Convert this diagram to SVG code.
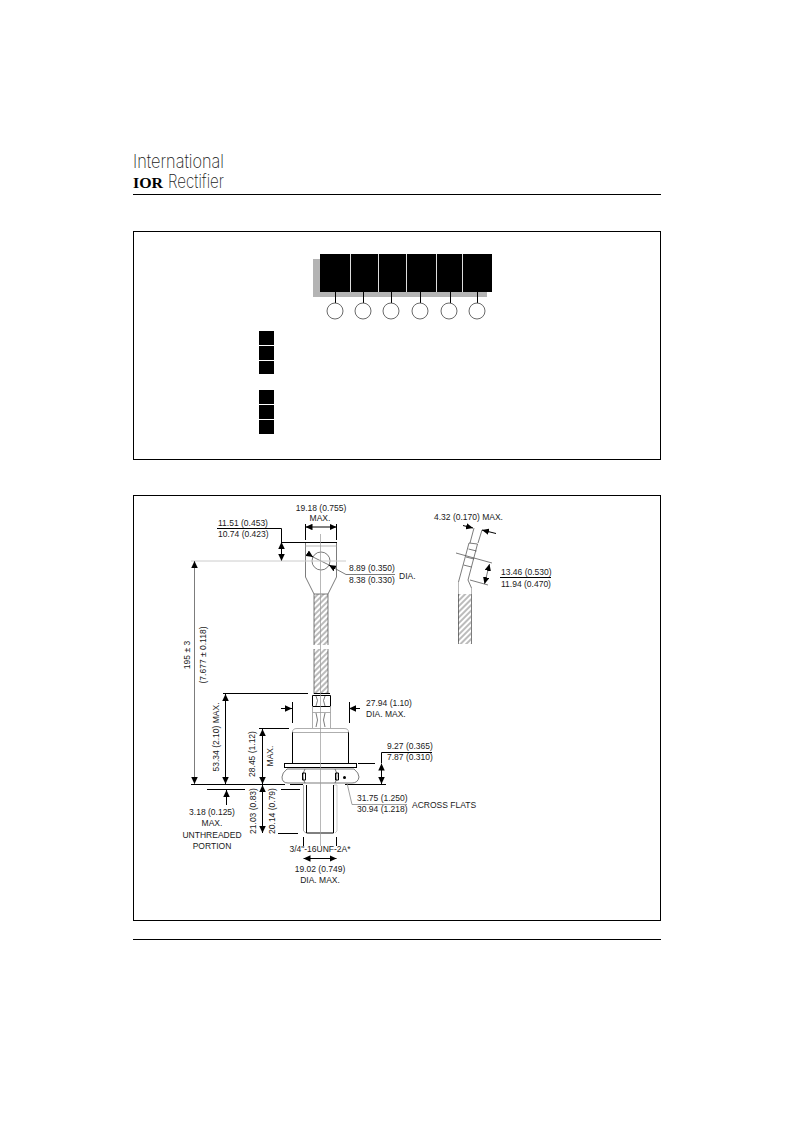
<svg xmlns="http://www.w3.org/2000/svg" width="793" height="1123" viewBox="0 0 793 1123">
<defs>
<style>
text{font-family:"Liberation Sans",Arial,sans-serif;font-size:8.5px;fill:#1a1a1a}
.logo{font-family:Inter,"Liberation Sans",sans-serif;font-weight:200;fill:#222}
.k{fill:none;stroke:#000;stroke-width:1}
.t{fill:none;stroke:#444;stroke-width:.7}
.g{fill:none;stroke:#999;stroke-width:.7}
.w{fill:none;stroke:#ccc;stroke-width:1}
.m{text-anchor:middle}
</style>
<pattern id="hatch" width="4" height="4" patternUnits="userSpaceOnUse" patternTransform="rotate(-45)"><rect width="4" height="4" fill="#fff"/><line x1="0" y1="1" x2="4" y2="1" stroke="#555" stroke-width=".8"/></pattern>
<marker id="a" viewBox="0 0 10 10" refX="10" refY="5" markerWidth="7" markerHeight="6.500" orient="auto-start-reverse" markerUnits="userSpaceOnUse" preserveAspectRatio="none"><path d="M0 0L10 5L0 10z" fill="#000"/></marker>
</defs>
<rect width="793" height="1123" fill="#fff"/>
<g id="header">
<text class="logo" x="133" y="168" style="font-size:18.500px" textLength="91" lengthAdjust="spacingAndGlyphs">International</text>
<text x="133" y="188" style="font-size:15px;font-weight:700;font-family:'Liberation Serif',serif;fill:#000" textLength="30" lengthAdjust="spacingAndGlyphs">IOR</text>
<text class="logo" x="168" y="188" style="font-size:18.500px" textLength="56" lengthAdjust="spacingAndGlyphs">Rectifier</text>
<line x1="133" y1="194.500" x2="661" y2="194.500" stroke="#000"/>
</g>
<rect id="frame-top" x="133.500" y="231.500" width="527" height="228" fill="none" stroke="#000"/>
<g id="part-number">
<rect x="313" y="259" width="174" height="38" fill="#b4b4b4"/>
<rect x="320" y="254" width="172" height="38" fill="#000"/>
<path d="M350.500 254V292M378.500 254V292M406.500 254V292M436.500 254V292M462.500 254V292" stroke="#ddd" stroke-width="1"/>
<path d="M335.500 292V303M363.500 292V303M391.500 292V303M420.500 292V303M450.500 292V303M477.500 292V303" class="k"/>
<g fill="#fff" stroke="#444" stroke-width=".8"><circle cx="335" cy="311" r="8"/><circle cx="363" cy="311" r="8"/><circle cx="391" cy="311" r="8"/><circle cx="420" cy="311" r="8"/><circle cx="449" cy="311" r="8"/><circle cx="477" cy="311" r="8"/></g>
</g>
<g id="legend" fill="#000"><rect x="259" y="331" width="15" height="14"/><rect x="259" y="346" width="15" height="14"/><rect x="259" y="361" width="15" height="13"/><rect x="259" y="390" width="15" height="14"/><rect x="259" y="405" width="15" height="14"/><rect x="259" y="420" width="15" height="14"/></g>
<rect id="frame-bottom" x="133.500" y="495.500" width="527" height="425" fill="none" stroke="#000"/>
<line id="footer-rule" x1="133" y1="939.500" x2="661" y2="939.500" stroke="#000"/>
<g id="device">
<rect x="314" y="594" width="14" height="51" fill="url(#hatch)"/><rect x="314" y="649" width="14" height="45" fill="url(#hatch)"/>
<path class="t" d="M314 594V645M328 594V645M314 649V694M328 649V694"/>
<path class="t" d="M305.500 542V577L314 594H328L336.500 577V542"/>
<path class="k" d="M305 542.500H337"/>
<path class="g" d="M305 546H337"/>
<circle cx="321" cy="561" r="9" class="t"/>
<path d="M312.500 695.500H330.500V706.500H312.500Z" fill="#fff" stroke="#000"/>
<path d="M314 693.500H330" class="k"/>
<path class="t" d="M316 696Q319 700 316 706M325 696Q322 700 325 706M316 713Q319 720 316 727M325 713Q322 720 325 727"/>
<path d="M312.500 706V728M330.500 706V728M312.500 712.500H330.500" stroke="#999" stroke-width=".8" fill="none"/>
<path d="M292.500 763V732" class="k"/><path d="M348.500 763V732" class="k"/>
<path d="M292.500 732Q292.500 728.500 297 728.500H344Q348.500 728.500 348.500 732M292.500 732.500H348.500" stroke="#999" stroke-width=".8" fill="none"/>
<rect x="284.500" y="763.500" width="72" height="4" fill="#fff" stroke="#000"/>
<path class="t" d="M287 769H354Q359 773 359 777Q358 783 352 783H288Q282 783 282 777Q282 773 287 769ZM305 769Q301 776 305 783M335 769Q339 776 335 783"/>
<path class="k" d="M302.500 773H305.500V780H302.500ZM335.500 773H338.500V780H335.500Z" fill="#fff"/>
<circle cx="344.500" cy="777.500" r="1.500" fill="#000"/>
<path class="k" d="M306.500 785V833H333.500V785"/>
<path d="M334 785H337V831L335 833" class="w"/>
<path d="M303.500 785V831L306 833" stroke="#999" stroke-width=".8" fill="none"/>
<path class="g" d="M320.500 534V846"/>
</g>
<g id="device-side">
<rect x="458" y="594" width="13" height="50" fill="url(#hatch)"/>
<path class="t" d="M458.500 594V644M471.500 594V644"/>
<path class="g" d="M458.500 582V594M471.500 588V594"/>
<path class="t" d="M458.500 582L469 543M477.500 544L468 580L471.500 588M469 543L477.500 544M468.500 549L476.500 551M466 557L474 559M463.500 565L471.500 567"/>
<path class="t" d="M474 528L470 543M482 530L478 543M456 553L492 563M470 580L488 585"/>
</g>
<g id="connectors">
<path class="k" d="M305.500 524V540M336.500 524V540"/>
<line x1="305.500" y1="527" x2="336.500" y2="527" class="k" marker-start="url(#a)" marker-end="url(#a)"/>
<path class="k" d="M217 528.500H281.500V542.500H305"/>
<line x1="281.500" y1="542" x2="281.500" y2="561" class="k" marker-start="url(#a)" marker-end="url(#a)"/>
<line x1="307" y1="553" x2="313" y2="557" class="k" marker-end="url(#a)"/>
<line x1="335" y1="568.500" x2="329" y2="565" class="k" marker-end="url(#a)"/>
<path class="t" d="M313 557L329 565M335 568.500L346 574.500H395"/>
<path class="w" d="M191 561H346"/>
<line x1="194.500" y1="561" x2="194.500" y2="784" class="t" marker-start="url(#a)" marker-end="url(#a)"/>
<path class="k" d="M191 784.500H285M290 784.500H303"/>
<path d="M223 693.500H308" class="k"/>
<line x1="225.500" y1="694" x2="225.500" y2="784" class="k" marker-start="url(#a)" marker-end="url(#a)"/>
<path d="M259 728.500H289" class="k"/>
<line x1="262.500" y1="729" x2="262.500" y2="784" class="k" marker-start="url(#a)" marker-end="url(#a)"/>
<line x1="262.500" y1="785" x2="262.500" y2="833" class="k" marker-start="url(#a)" marker-end="url(#a)"/>
<path d="M207 789.500H245M281 789.500H300M278 833.500H298" class="k"/>
<line x1="226.500" y1="805" x2="226.500" y2="790" class="k" marker-end="url(#a)"/>
<line x1="281" y1="708.500" x2="292" y2="708.500" class="k" marker-end="url(#a)"/>
<line x1="360" y1="708.500" x2="349" y2="708.500" class="k" marker-end="url(#a)"/>
<path d="M292.500 702V723M349.500 702V723" class="k"/>
<path class="k" d="M432 752.500H381.500V763"/>
<path class="k" d="M358 763.500H375M345 784.500H386"/>
<line x1="381.500" y1="763.500" x2="381.500" y2="784" class="k" marker-start="url(#a)" marker-end="url(#a)"/>
<path d="M347 783L352 804.500H407" stroke="#888" stroke-width=".8" fill="none"/>
<path d="M303.500 837V846M336.500 837V846" class="k"/>
<line x1="303.500" y1="858.500" x2="336.500" y2="858.500" class="k" marker-start="url(#a)" marker-end="url(#a)"/>
<path class="k" d="M500 577.500H551"/>
<line x1="463" y1="525.500" x2="473" y2="528" class="k" marker-end="url(#a)"/>
<line x1="496" y1="533.500" x2="482" y2="530" class="k" marker-end="url(#a)"/>
<line x1="489.500" y1="564" x2="484.500" y2="584" class="t" marker-start="url(#a)" marker-end="url(#a)"/>
</g>
<g id="labels">
<text x="321" y="511" class="m">19.18 (0.755)</text><text x="320" y="521" class="m">MAX.</text>
<text x="218" y="526">11.51 (0.453)</text><text x="218" y="537">10.74 (0.423)</text>
<text x="349" y="571">8.89 (0.350)</text><text x="349" y="583">8.38 (0.330)</text><text x="399" y="579">DIA.</text>
<text x="434" y="520">4.32 (0.170) MAX.</text>
<text x="501" y="575">13.46 (0.530)</text><text x="501" y="587">11.94 (0.470)</text>
<text x="366" y="706">27.94 (1.10)</text><text x="366" y="717">DIA. MAX.</text>
<text x="387" y="749">9.27 (0.365)</text><text x="387" y="760">7.87 (0.310)</text>
<text x="357" y="801">31.75 (1.250)</text><text x="357" y="812">30.94 (1.218)</text><text x="412" y="808">ACROSS FLATS</text>
<text x="212" y="815" class="m">3.18 (0.125)</text><text x="212" y="826" class="m">MAX.</text><text x="212" y="838" class="m">UNTHREADED</text><text x="212" y="849" class="m">PORTION</text>
<text x="320" y="852" class="m">3/4"-16UNF-2A*</text>
<text x="320" y="872" class="m">19.02 (0.749)</text><text x="320" y="883" class="m">DIA. MAX.</text>
<text class="m" transform="translate(190 655) rotate(-90)">195 ± 3</text>
<text class="m" transform="translate(206 655) rotate(-90)">(7.677 ± 0.118)</text>
<text class="m" transform="translate(219 737) rotate(-90)">53.34 (2.10) MAX.</text>
<text class="m" transform="translate(255 754) rotate(-90)">28.45 (1.12)</text>
<text class="m" transform="translate(273 756) rotate(-90)">MAX.</text>
<text class="m" transform="translate(256 811) rotate(-90)">21.03 (0.83)</text>
<text class="m" transform="translate(275 811) rotate(-90)">20.14 (0.79)</text>
</g>
</svg>
